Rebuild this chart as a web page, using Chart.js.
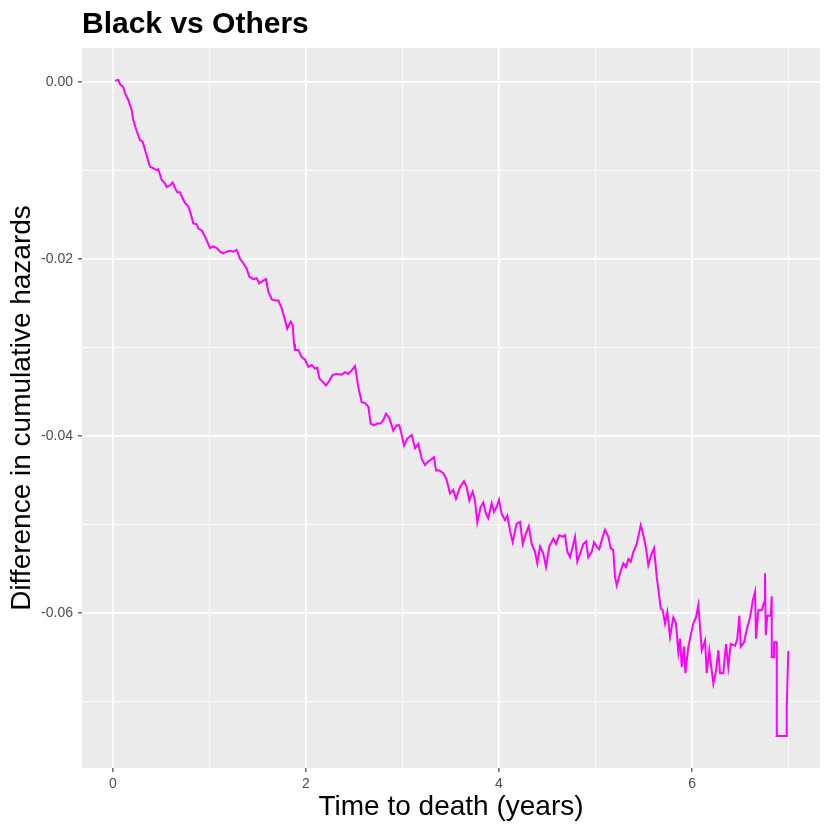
<!DOCTYPE html>
<html>
<head>
<meta charset="utf-8">
<script src="https://cdn.jsdelivr.net/npm/chart.js@4.4.0/dist/chart.umd.min.js"></script>
<style>
  body { margin: 0; background: #fff; }
  #wrap { width: 830px; height: 830px; }
</style>
</head>
<body>
<div id="wrap"><canvas id="hazardChart"></canvas></div>
<script>
// time to death (years)
const timeYears = [
  0.021,0.055,0.073,0.107,0.124,0.159,0.194,0.210,0.246,0.280,0.308,0.332,0.366,0.383,0.418,0.453,0.469,0.505,0.539,0.556,
  0.591,0.619,0.642,0.666,0.694,0.722,0.746,0.780,0.805,0.832,0.867,0.884,0.919,0.953,0.977,1.005,1.039,1.075,1.109,1.143,
  1.178,1.212,1.247,1.282,1.316,1.350,1.385,1.412,1.454,1.489,1.516,1.551,1.585,1.609,1.645,1.679,1.713,1.748,
  1.759,1.782,1.806,1.841,1.862,1.876,1.886,1.920,1.955,1.990,2.024,2.059,2.093,2.117,2.138,2.173,2.207,2.241,2.277,2.318,
  2.370,2.404,2.438,2.474,2.508,2.542,2.577,2.611,2.646,2.670,2.705,2.739,2.774,2.801,2.829,2.863,2.905,2.940,2.967,2.992,
  3.016,3.050,3.095,3.130,3.164,3.199,3.233,3.267,3.303,3.326,3.347,3.381,3.423,3.458,
  3.492,3.526,3.554,3.596,3.637,3.665,3.692,3.727,3.751,3.775,3.810,3.837,3.865,3.889,3.924,3.948,3.976,4.000,4.028,4.062,
  4.086,4.114,4.142,4.183,4.218,4.246,4.280,4.308,4.339,4.373,4.397,4.425,4.459,4.487,4.521,4.563,4.591,4.625,4.660,4.684,
  4.708,4.736,4.764,4.788,4.811,4.847,4.874,4.902,4.925,4.961,4.984,5.012,5.039,5.064,5.098,5.133,5.157,5.184,5.202,5.220,
  5.254,5.288,5.316,5.340,5.365,5.392,5.427,5.468,5.495,5.523,5.547,5.575,5.606,5.634,5.661,
  5.676,5.696,5.720,5.744,5.772,5.806,5.834,5.858,5.876,5.893,5.917,5.931,5.962,5.987,6.013,6.041,6.065,6.083,6.101,6.135,
  6.152,6.179,6.204,6.221,6.249,6.273,6.290,6.324,6.352,6.376,6.401,6.446,6.469,6.490,6.505,6.539,6.573,6.601,6.629,6.653,
  6.663,6.687,6.722,6.746,6.756,6.764,6.780,6.816,6.826,6.826,6.850,6.850,6.878,6.878,6.981,6.981,6.998
];

// difference in cumulative hazards
const hazardDiff = [
  0.0001,0.0002,-0.0003,-0.0006,-0.0013,-0.0021,-0.0032,-0.0043,-0.0056,-0.0066,-0.0068,-0.0077,-0.0090,-0.0096,-0.0098,-0.0100,-0.0099,-0.0111,-0.0115,-0.0119,
  -0.0117,-0.0114,-0.0120,-0.0125,-0.0125,-0.0132,-0.0137,-0.0141,-0.0149,-0.0160,-0.0161,-0.0166,-0.0168,-0.0175,-0.0181,-0.0188,-0.0186,-0.0188,-0.0192,-0.0194,
  -0.0192,-0.0191,-0.0192,-0.0190,-0.0200,-0.0205,-0.0211,-0.0220,-0.0223,-0.0222,-0.0228,-0.0225,-0.0223,-0.0237,-0.0246,-0.0247,-0.0247,-0.0256,
  -0.0260,-0.0269,-0.0279,-0.0271,-0.0275,-0.0296,-0.0303,-0.0303,-0.0311,-0.0314,-0.0322,-0.0320,-0.0324,-0.0323,-0.0335,-0.0339,-0.0343,-0.0338,-0.0331,-0.0330,
  -0.0331,-0.0328,-0.0330,-0.0326,-0.0321,-0.0345,-0.0362,-0.0363,-0.0367,-0.0386,-0.0388,-0.0386,-0.0386,-0.0382,-0.0375,-0.0380,-0.0394,-0.0388,-0.0388,-0.0399,
  -0.0411,-0.0403,-0.0399,-0.0414,-0.0409,-0.0426,-0.0433,-0.0429,-0.0426,-0.0424,-0.0439,-0.0439,-0.0442,-0.0450,
  -0.0465,-0.0461,-0.0471,-0.0458,-0.0451,-0.0458,-0.0473,-0.0463,-0.0473,-0.0498,-0.0480,-0.0475,-0.0488,-0.0493,-0.0476,-0.0486,-0.0480,-0.0472,-0.0488,-0.0495,
  -0.0490,-0.0507,-0.0520,-0.0499,-0.0497,-0.0522,-0.0510,-0.0502,-0.0522,-0.0531,-0.0544,-0.0525,-0.0533,-0.0548,-0.0525,-0.0516,-0.0522,-0.0512,-0.0514,-0.0512,
  -0.0531,-0.0537,-0.0525,-0.0514,-0.0542,-0.0531,-0.0522,-0.0519,-0.0537,-0.0531,-0.0520,-0.0525,-0.0528,-0.0518,-0.0506,-0.0514,-0.0527,-0.0529,-0.0559,-0.0569,
  -0.0555,-0.0544,-0.0548,-0.0539,-0.0542,-0.0531,-0.0522,-0.0501,-0.0512,-0.0527,-0.0546,-0.0535,-0.0527,-0.0559,-0.0582,
  -0.0595,-0.0597,-0.0612,-0.0599,-0.0627,-0.0605,-0.0612,-0.0644,-0.0629,-0.0661,-0.0638,-0.0668,-0.0638,-0.0625,-0.0612,-0.0605,-0.0591,-0.0616,-0.0642,-0.0631,
  -0.0668,-0.0642,-0.0665,-0.0680,-0.0665,-0.0642,-0.0668,-0.0668,-0.0635,-0.0661,-0.0635,-0.0637,-0.0629,-0.0603,-0.0638,-0.0633,-0.0616,-0.0605,-0.0586,-0.0576,
  -0.0629,-0.0597,-0.0597,-0.0588,-0.0555,-0.0625,-0.0603,-0.0603,-0.0581,-0.0650,-0.0650,-0.0633,-0.0633,-0.0739,-0.0739,-0.0706,-0.0643
];

// axis ticks (empty label = minor gridline)
const xTickValues = [0, 1, 2, 3, 4, 5, 6, 7];
const xTickLabels = ['0', '', '2', '', '4', '', '6', ''];
const yTickValues = [0, -0.01, -0.02, -0.03, -0.04, -0.05, -0.06, -0.07];
const yTickLabels = ['0.00', '', '-0.02', '', '-0.04', '', '-0.06', ''];

const FONT = "'Liberation Sans', Arial, Helvetica, sans-serif";

const points = timeYears.map((t, i) => ({ x: t, y: hazardDiff[i] }));

// grey panel like ggplot
const panelBg = {
    id: 'panelBg',
    beforeDraw(chart) {
        const { ctx, chartArea } = chart;
        ctx.save();
        ctx.fillStyle = '#ffffff';
        ctx.fillRect(0, 0, chart.width, chart.height);
        ctx.fillStyle = '#EBEBEB';
        ctx.fillRect(chartArea.left, chartArea.top, chartArea.right - chartArea.left, chartArea.bottom - chartArea.top);
        ctx.restore();
    }
};

function gridFor(labels) {
    return {
        color: '#ffffff',
        lineWidth: (c) => (labels[c.index] ? 1.7 : 0.8),
        tickColor: (c) => (labels[c.index] ? '#333333' : 'rgba(0,0,0,0)'),
        tickLength: 4,
        tickWidth: 1.1,
        drawTicks: true
    };
}

const ctx = document.getElementById('hazardChart').getContext('2d');
new Chart(ctx, {
    type: 'line',
    data: {
        datasets: [{
            data: points,
            borderColor: '#FF00FF',
            borderWidth: 2,
            pointRadius: 0,
            tension: 0,
            fill: false
        }]
    },
    options: {
        responsive: true,
        maintainAspectRatio: false,
        devicePixelRatio: 1,
        animation: false,
        layout: { padding: { top: 7, right: 10, bottom: 0, left: 0 } },
        plugins: {
            legend: { display: false },
            tooltip: { enabled: false },
            title: {
                display: true,
                text: 'Black vs Others',
                align: 'start',
                fullSize: false,
                color: '#000000',
                font: { family: FONT, size: 30, weight: 'bold' },
                padding: { top: 0, bottom: 5 }
            }
        },
        scales: {
            x: {
                type: 'linear',
                min: -0.321,
                max: 7.326,
                afterBuildTicks: (axis) => { axis.ticks = xTickValues.map(v => ({ value: v })); },
                afterFit: (scale) => { scale.height = 62; },
                border: { display: false },
                grid: gridFor(xTickLabels),
                ticks: {
                    autoSkip: false,
                    maxRotation: 0,
                    padding: 4,
                    color: '#4D4D4D',
                    font: { family: FONT, size: 14 },
                    callback: (v, i) => xTickLabels[i]
                },
                title: {
                    display: true,
                    text: 'Time to death (years)',
                    color: '#000000',
                    font: { family: FONT, size: 28 },
                    padding: { top: 0, bottom: 6 }
                }
            },
            y: {
                type: 'linear',
                min: -0.0775,
                max: 0.0038,
                afterBuildTicks: (axis) => { axis.ticks = yTickValues.map(v => ({ value: v })); },
                afterFit: (scale) => { scale.width = 82; },
                border: { display: false },
                grid: gridFor(yTickLabels),
                ticks: {
                    autoSkip: false,
                    padding: 5,
                    color: '#4D4D4D',
                    font: { family: FONT, size: 14 },
                    callback: (v, i) => yTickLabels[i]
                },
                title: {
                    display: true,
                    text: 'Difference in cumulative hazards',
                    color: '#000000',
                    font: { family: FONT, size: 28 },
                    padding: { top: 5, bottom: 0 }
                }
            }
        }
    },
    plugins: [panelBg]
});
</script>
</body>
</html>
